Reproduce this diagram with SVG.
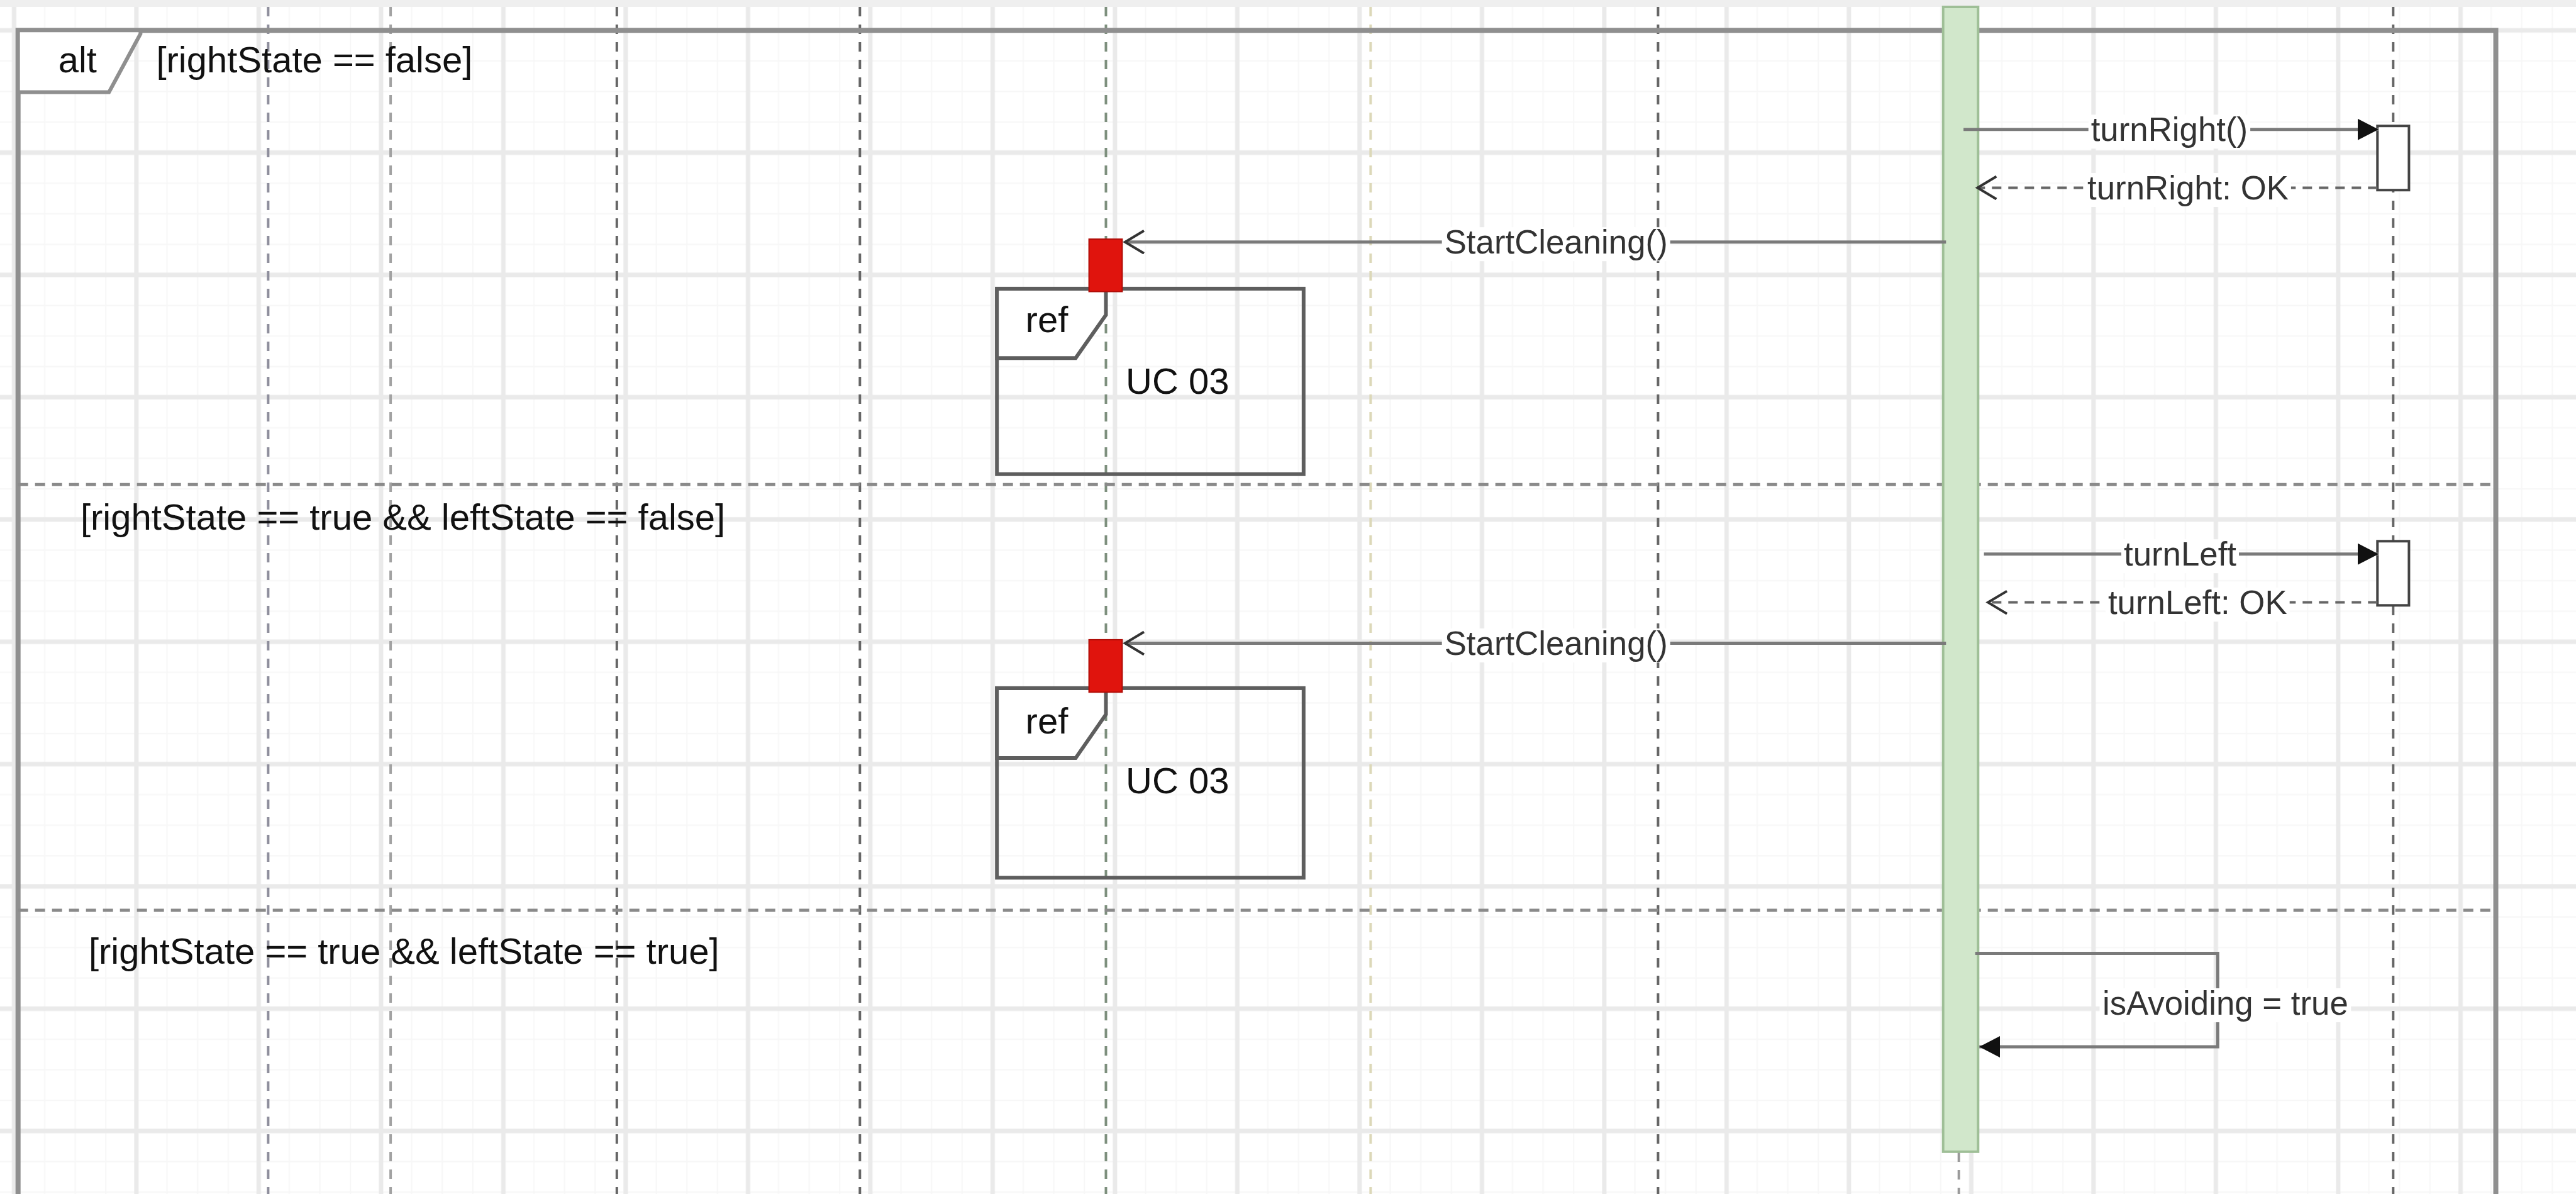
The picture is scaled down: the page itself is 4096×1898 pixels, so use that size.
<svg xmlns="http://www.w3.org/2000/svg" width="4096" height="1898" viewBox="0 0 4096 1898">
  <style>
    .node-text { font-family: "Liberation Sans", Arial, sans-serif; font-size: 58px; fill: #111; }
    .msg-text { font-family: "Liberation Sans", Arial, sans-serif; font-size: 52.8px; fill: #333; text-anchor: middle; }
    .lifeline { fill: none; stroke-width: 4; stroke-dasharray: 15 13; }
    .msg { fill: none; stroke: #7a7a7a; stroke-width: 5; }
    .ret { fill: none; stroke: #666; stroke-width: 4; stroke-dasharray: 15 11; }
    .label-bg { fill: #ffffff; }
    .ref-box { fill: none; stroke: #5e5e5e; stroke-width: 6; }
    .ref-tab { fill: #ffffff; stroke: #5e5e5e; stroke-width: 6; }
    .red { fill: #e0140d; stroke: #b00d08; stroke-width: 2; }
    .target { fill: #ffffff; stroke: #444; stroke-width: 4; }
    .sep { fill: none; stroke: #8a8a8a; stroke-width: 5; stroke-dasharray: 16 11; }
  </style>
  <defs>
    <pattern id="grid" patternUnits="userSpaceOnUse" x="-99.1" y="-73.3" width="194.5" height="194.4">
      <rect x="0" y="0" width="194.5" height="194.4" fill="#ffffff"/>
      <g stroke="#f7f7f7" stroke-width="2">
        <line x1="24.3" y1="0" x2="24.3" y2="194.4"/>
        <line x1="72.9" y1="0" x2="72.9" y2="194.4"/>
        <line x1="170.1" y1="0" x2="170.1" y2="194.4"/>
        <line x1="0" y1="24.3" x2="194.5" y2="24.3"/>
        <line x1="0" y1="72.9" x2="194.5" y2="72.9"/>
        <line x1="0" y1="170.1" x2="194.5" y2="170.1"/>
      </g>
      <g stroke="#eaeaea" stroke-width="7">
        <line x1="121.5" y1="0" x2="121.5" y2="194.4"/>
        <line x1="0" y1="121.5" x2="194.5" y2="121.5"/>
      </g>
    </pattern>
    <marker id="filled" markerUnits="userSpaceOnUse" markerWidth="40" markerHeight="40" refX="33" refY="17" orient="auto" viewBox="0 0 40 40">
      <path d="M0,0 L33,17 L0,34 Z" fill="#111" stroke="none"/>
    </marker>
    <marker id="open" markerUnits="userSpaceOnUse" markerWidth="40" markerHeight="44" refX="32" refY="19" orient="auto" viewBox="0 0 40 44">
      <path d="M2,1 L32,19 L2,37" fill="none" stroke="#333" stroke-width="4" stroke-dasharray="none"/>
    </marker>
  </defs>

  <!-- background grid -->
  <rect x="0" y="0" width="4096" height="1898" fill="url(#grid)"/>
  <rect x="0" y="0" width="4096" height="11" fill="#efefef"/>

  <!-- lifelines -->
  <g id="lifelines">
    <line class="lifeline" x1="426.4" y1="11" x2="426.4" y2="1898" stroke="#8e8e9c"/>
    <line class="lifeline" x1="621.1" y1="11" x2="621.1" y2="1898" stroke="#a2a2a2"/>
    <line class="lifeline" x1="980.8" y1="11" x2="980.8" y2="1898" stroke="#666"/>
    <line class="lifeline" x1="1367.3" y1="11" x2="1367.3" y2="1898" stroke="#666"/>
    <line class="lifeline" x1="1758.5" y1="11" x2="1758.5" y2="1898" stroke="#7d8f7d"/>
    <line class="lifeline" x1="2179.4" y1="11" x2="2179.4" y2="1898" stroke="#dcd8b8"/>
    <line class="lifeline" x1="2636.4" y1="11" x2="2636.4" y2="1898" stroke="#666"/>
    <line class="lifeline" x1="3114.7" y1="1832" x2="3114.7" y2="1898" stroke="#9a9a9a"/>
    <line class="lifeline" x1="3805.3" y1="11" x2="3805.3" y2="1898" stroke="#666"/>
  </g>

  <!-- alt combined fragment -->
  <g id="alt-fragment">
    <path d="M28.7,1910 V48.2 H3968.5 V1910" fill="none" stroke="#8f8f8f" stroke-width="8"/>
    <polygon points="28.7,48.2 223.4,48.2 223.4,53.8 173.3,146.5 28.7,146.5" fill="#ffffff" stroke="#8f8f8f" stroke-width="6"/>
    <text class="node-text" x="92.7" y="115">alt</text>
    <text class="node-text" x="248.4" y="115">[rightState == false]</text>
    <line class="sep" x1="28.7" y1="770.3" x2="3968.5" y2="770.3"/>
    <text class="node-text" x="127.9" y="841.7">[rightState == true &amp;&amp; leftState == false]</text>
    <line class="sep" x1="28.7" y1="1447" x2="3968.5" y2="1447"/>
    <text class="node-text" x="140.9" y="1532.3">[rightState == true &amp;&amp; leftState == true]</text>
  </g>

  <!-- main activation bar -->
  <g id="activation-main">
    <rect x="3089.7" y="11" width="55.6" height="1819.8" fill="#d1e7cb" stroke="#9fbf97" stroke-width="4"/>
  </g>

  <!-- ref 1 -->
  <g id="ref1">
    <rect class="ref-box" x="1585.2" y="458.9" width="487.6" height="294.8"/>
    <polygon class="ref-tab" points="1585.2,458.9 1758.5,458.9 1758.5,500.6 1710.3,569.2 1585.2,569.2"/>
    <text class="node-text" x="1630.6" y="528.4">ref</text>
    <text class="node-text" x="1790" y="625.7">UC 03</text>
    <rect class="red" x="1731.6" y="380.1" width="52.8" height="83.4"/>
  </g>

  <!-- ref 2 -->
  <g id="ref2">
    <rect class="ref-box" x="1585.2" y="1093.9" width="487.6" height="301.3"/>
    <polygon class="ref-tab" points="1585.2,1093.9 1758.5,1093.9 1758.5,1135.6 1710.3,1205.1 1585.2,1205.1"/>
    <text class="node-text" x="1630.6" y="1166.2">ref</text>
    <text class="node-text" x="1790" y="1260.7">UC 03</text>
    <rect class="red" x="1731.6" y="1016.9" width="52.8" height="83.4"/>
  </g>

  <!-- target activations -->
  <g id="activation-right-1">
    <rect class="target" x="3780.3" y="200.2" width="50.1" height="102"/>
  </g>
  <g id="activation-right-2">
    <rect class="target" x="3780.3" y="860.3" width="50.1" height="102"/>
  </g>

  <!-- connectors -->
  <g id="connectors">
    <line class="msg" x1="3122.1" y1="205.8" x2="3782" y2="205.8" marker-end="url(#filled)"/>
    <rect class="label-bg" x="3320.7" y="182.3" width="257.4" height="54"/>
    <text class="msg-text" x="3449.4" y="224.3">turnRight()</text>

    <line class="ret" x1="3780.3" y1="298.5" x2="3144.4" y2="298.5" marker-end="url(#open)"/>
    <rect class="label-bg" x="3315" y="275" width="327.9" height="54"/>
    <text class="msg-text" x="3479" y="317">turnRight: OK</text>

    <line class="msg" x1="3094.3" y1="384.7" x2="1789" y2="384.7" marker-end="url(#open)"/>
    <rect class="label-bg" x="2292.7" y="361.2" width="363" height="54"/>
    <text class="msg-text" x="2474.2" y="403.2">StartCleaning()</text>

    <line class="msg" x1="3154.6" y1="880.7" x2="3782" y2="880.7" marker-end="url(#filled)"/>
    <rect class="label-bg" x="3373" y="857.2" width="187" height="54"/>
    <text class="msg-text" x="3466.5" y="899.2">turnLeft</text>

    <line class="ret" x1="3780.3" y1="957.6" x2="3161.1" y2="957.6" marker-end="url(#open)"/>
    <rect class="label-bg" x="3348" y="934.1" width="292.7" height="54"/>
    <text class="msg-text" x="3494.3" y="976.1">turnLeft: OK</text>

    <line class="msg" x1="3094.3" y1="1022.5" x2="1789" y2="1022.5" marker-end="url(#open)"/>
    <rect class="label-bg" x="2292.7" y="999" width="363" height="54"/>
    <text class="msg-text" x="2474.2" y="1041">StartCleaning()</text>

    <path class="msg" d="M3140.7,1515.6 H3526.3 V1664 H3147.2" marker-end="url(#filled)"/>
    <rect class="label-bg" x="3338.5" y="1571" width="399.8" height="54"/>
    <text class="msg-text" x="3538.4" y="1613">isAvoiding = true</text>
  </g>
</svg>
